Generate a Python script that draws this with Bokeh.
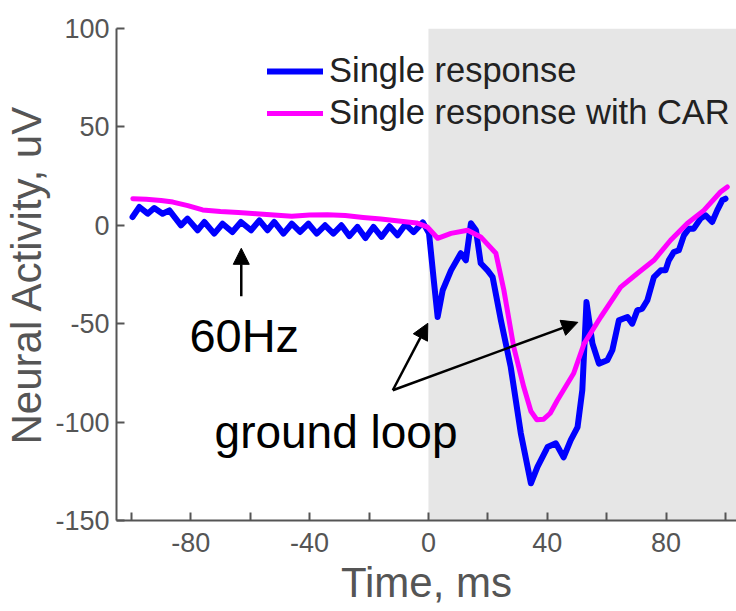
from bokeh.plotting import figure
from bokeh.models import (Range1d, FixedTicker, BoxAnnotation, Label, Arrow,
                          NormalHead, Legend, LegendItem)
from bokeh.embed import file_html
from bokeh.resources import INLINE

# ---- data ----
blue_t = [-99.6, -97.3, -94.5, -92.3, -89.5, -87.2, -83.3, -81.1, -77.7, -75.4,
          -72.1, -69.3, -66.0, -63.1, -59.7, -56.9, -54.2, -51.9, -48.8, -46.0,
          -43.2, -40.4, -37.6, -34.8, -32.0, -29.3, -26.6, -23.9, -21.2, -18.5,
          -15.8, -13.1, -10.4, -7.7, -5.0, -1.9, 0.2, 1.8, 3.1, 4.8, 7.6, 10.9,
          12.6, 14.3, 16.0, 17.6, 19.9, 21.6, 24.4, 27.7, 31.1, 34.5, 36.7, 40.1,
          42.9, 45.5, 47.9, 50.2, 51.8, 53.2, 55.2, 57.4, 60.2, 61.9, 64.1, 67.0,
          68.6, 70.3, 72.0, 73.7, 75.9, 78.2, 79.8, 80.9, 82.6, 84.3, 86.0, 87.7,
          89.3, 91.6, 93.3, 95.5, 97.2, 98.9, 100.0]
blue_v = [4.2, 9.3, 5.9, 8.8, 5.9, 7.6, 0.0, 3.4, -2.5, 1.7,
          -4.2, 0.8, -3.4, 1.7, -2.5, 2.5, -2.5, 1.7, -4.2, 0.8,
          -3.4, 0.8, -4.2, 0.0, -4.2, 0.0, -5.5, -0.8, -6.5, -0.8,
          -5.9, -0.5, -5.1, 0.5, -3.5, 1.5, -4.1, -27.9, -46.6, -33.0, -22.9, -14.2,
          -17.8, 1.0, -2.5, -19.3, -22.9, -26.3, -48.3, -72.0, -105.7, -131.1, -122.8, -112.7,
          -110.8, -117.9, -109.2, -102.5, -83.8, -39.0, -60.0, -70.3, -68.6, -63.5, -48.3, -46.6,
          -50.0, -43.2, -42.3, -38.1, -26.3, -22.9, -22.9, -17.8, -13.6, -12.7, -5.1, -1.7,
          -1.7, 3.4, 5.1, 1.7, 7.6, 12.7, 13.5]

car_t = [-99.5, -95.0, -90.0, -86.0, -81.0, -76.0, -70.0, -64.0, -58.0, -52.0,
         -46.0, -40.0, -34.0, -28.0, -22.0, -16.0, -10.0, -4.0, -0.3, 3.1,
         7.6, 13.2, 17.6, 22.7, 25.4, 28.7, 32.1, 34.5, 36.5, 38.8, 41.0, 43.4,
         48.9, 52.4, 58.0, 64.7, 70.3, 75.9, 81.5, 87.1, 92.7, 98.3, 100.6]
car_v = [13.5, 13.2, 12.6, 11.8, 10.0, 7.8, 7.0, 6.5, 5.9, 5.2,
         4.6, 5.2, 5.4, 5.0, 4.0, 3.2, 2.2, 1.2, -0.9, -6.6,
         -4.1, -2.5, -5.9, -14.2, -33.0, -61.8, -82.2, -94.5, -98.8, -98.5, -95.5, -88.9,
         -75.2, -60.1, -46.6, -31.4, -24.5, -17.8, -7.6, 0.9, 7.6, 16.9, 19.5]

x_ticks = [-100, -80, -60, -40, -20, 0, 20, 40, 60, 80, 100]
x_labeled = [-80, -40, 0, 40, 80]
y_ticks = [-150, -100, -50, 0, 50, 100]

stim_start = 0
hz_arrow = dict(x=-63.0, y_tail=-36.1, y_tip=-11.7)
loop_origin = (-12.0, -83.8)
loop_tips = [(-0.2, -49.8), (50.3, -49.3)]
hz_text = (-62.0, -56.0)
loop_text = (-31.1, -105.0)

GRAY = "#555555"
FONT = "Liberation Sans"

p = figure(width=736, height=611, output_backend="svg", toolbar_location=None,
           x_range=Range1d(-105, 103.7), y_range=Range1d(-150, 100),
           min_border_left=115, min_border_right=0, min_border_top=28,
           min_border_bottom=91)
p.outline_line_color = None
p.grid.visible = False
p.background_fill_color = "white"

p.add_layout(BoxAnnotation(left=stim_start, fill_color="#e6e6e6", fill_alpha=1.0,
                           line_color=None, level="underlay"))

r_blue = p.line(blue_t, blue_v, line_color="#0000ff", line_width=6,
                line_join="round", line_cap="round")
r_car = p.line(car_t, car_v, line_color="#ff00ff", line_width=5,
               line_join="round", line_cap="round")

# axes
for ax in (p.xaxis[0], p.yaxis[0]):
    ax.axis_line_color = GRAY
    ax.axis_line_width = 2
    ax.major_tick_line_color = GRAY
    ax.major_tick_line_width = 2
    ax.major_tick_in = 8
    ax.major_tick_out = 0
    ax.minor_tick_line_color = None
    ax.major_label_text_font = FONT
    ax.major_label_text_font_size = "27px"
    ax.major_label_text_color = GRAY
    ax.axis_label_text_font = FONT
    ax.axis_label_text_font_size = "42px"
    ax.axis_label_text_color = GRAY
    ax.axis_label_text_font_style = "normal"

p.xaxis.ticker = FixedTicker(ticks=x_ticks)
p.xaxis.major_label_overrides = {t: ("" if t not in x_labeled else str(t)) for t in x_ticks}
p.xaxis.major_label_standoff = 12
p.xaxis.axis_label = "Time, ms"
p.xaxis.axis_label_standoff = 4

p.yaxis.ticker = FixedTicker(ticks=y_ticks)
p.yaxis.major_label_overrides = {t: str(t) for t in y_ticks}
p.yaxis.axis_label = "Neural Activity, uV"
p.yaxis.major_label_standoff = 7
p.yaxis.axis_label_standoff = 2

# legend
legend = Legend(items=[LegendItem(label="Single response", renderers=[r_blue]),
                       LegendItem(label="Single response with CAR", renderers=[r_car])],
                location=(151, 388), orientation="vertical",
                background_fill_alpha=0, border_line_alpha=0,
                label_text_font=FONT, label_text_font_size="34.5px",
                label_text_color="#222222", glyph_width=56, glyph_height=30,
                label_standoff=6, spacing=3, padding=0, margin=0)
p.add_layout(legend)

# annotations
head = dict(size=16, fill_color="black", line_color="black")
p.add_layout(Arrow(end=NormalHead(**head), x_start=hz_arrow["x"], y_start=hz_arrow["y_tail"],
                   x_end=hz_arrow["x"], y_end=hz_arrow["y_tip"], line_width=2.5,
                   line_color="black"))
for tx, ty in loop_tips:
    p.add_layout(Arrow(end=NormalHead(**head), x_start=loop_origin[0], y_start=loop_origin[1],
                       x_end=tx, y_end=ty, line_width=2.5, line_color="black"))

p.add_layout(Label(x=hz_text[0], y=hz_text[1], text="60Hz", text_font=FONT,
                   text_font_size="47px", text_color="black", text_align="center",
                   text_baseline="middle"))
p.add_layout(Label(x=loop_text[0], y=loop_text[1], text="ground loop", text_font=FONT,
                   text_font_size="46px", text_color="black", text_align="center",
                   text_baseline="middle"))

open("out.html", "w").write(file_html(p, INLINE))
